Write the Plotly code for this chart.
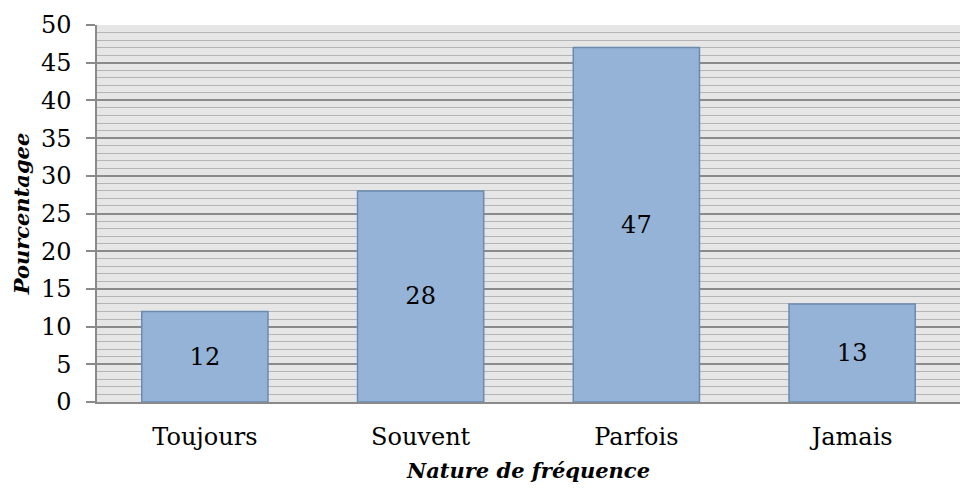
import plotly.graph_objects as go

categories = ["Toujours", "Souvent", "Parfois", "Jamais"]
values = [12, 28, 47, 13]
y_title = "Pourcentagee"
x_title = "Nature de fréquence"

FONT = "DejaVu Serif"
FS = 24
TFS = 21
fig = go.Figure()
fig.add_trace(go.Bar(
    x=categories, y=values,
    text=[str(v) for v in values],
    textposition="inside", insidetextanchor="middle",
    textfont=dict(family=FONT, size=FS, color="#000000"),
    insidetextfont=dict(family=FONT, size=FS, color="#000000"),
    marker=dict(color="#95b3d7", line=dict(color="#6a8bb0", width=1.5)),
    width=0.585,
    hoverinfo="skip",
))
fig.update_layout(
    width=961, height=490,
    margin=dict(l=97, r=1, t=25, b=88),
    paper_bgcolor="white", plot_bgcolor="#e6e6e6",
    font=dict(family=FONT, size=FS, color="#000000"),
    showlegend=False,
    uniformtext=dict(minsize=FS, mode="show"),
)
fig.update_yaxes(
    range=[0, 50], dtick=5, tick0=0, automargin=False,
    showgrid=True, gridcolor="#8a8a8a", gridwidth=1.5,
    minor=dict(dtick=1, showgrid=True, gridcolor="#b4b4b4", gridwidth=1.3),
    ticks="outside", ticklen=9, tickcolor="#8a8a8a", tickwidth=1.5,
    ticklabelstandoff=10,
    showline=True, linecolor="#8a8a8a", linewidth=1.5,
    zeroline=False,
    title=dict(text="<b><i>" + y_title + "</i></b>", standoff=6,
               font=dict(family=FONT, size=TFS)),
    tickfont=dict(family=FONT, size=FS),
)
fig.update_xaxes(
    automargin=False,
    showgrid=False, showline=True, linecolor="#8a8a8a", linewidth=1.5,
    ticks="", ticklabelstandoff=12, tickfont=dict(family=FONT, size=FS),
    title=dict(text="<b><i>" + x_title + "</i></b>", standoff=14,
               font=dict(family=FONT, size=TFS)),
)
fig.write_html("out.html", config={"displayModeBar": False},
               post_script="document.body.style.margin='0';document.body.style.overflow='hidden';")
